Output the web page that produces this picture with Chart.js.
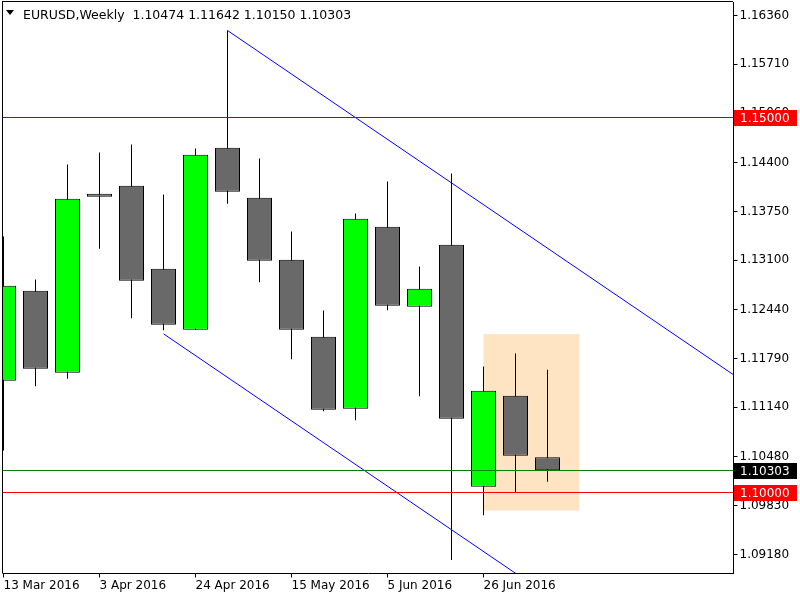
<!DOCTYPE html>
<html>
<head>
<meta charset="utf-8">
<script src="https://cdn.jsdelivr.net/npm/chart.js@4.4.1/dist/chart.umd.min.js"></script>
<style>
  html, body { margin: 0; padding: 0; background: #fff; }
  #wrap { width: 800px; height: 600px; }
</style>
</head>
<body>
<div id="wrap"><canvas id="chart" width="800" height="600"></canvas></div>
<script>
// weekly bars, EURUSD
const weeks = ['13 Mar 2016', '20 Mar 2016', '27 Mar 2016', '3 Apr 2016', '10 Apr 2016', '17 Apr 2016',
               '24 Apr 2016', '1 May 2016', '8 May 2016', '15 May 2016', '22 May 2016', '29 May 2016',
               '5 Jun 2016', '12 Jun 2016', '19 Jun 2016', '26 Jun 2016', '3 Jul 2016', '10 Jul 2016'];
const open  = [1.11494, 1.12693, 1.11600, 1.13985, 1.14091, 1.12986, 1.12173, 1.14598, 1.13932, 1.13106,
               1.12080, 1.11121, 1.13545, 1.12480, 1.13306, 1.10082, 1.11294, 1.10474];
const high  = [1.13416, 1.12843, 1.14375, 1.14535, 1.14642, 1.13976, 1.14588, 1.16160, 1.14455, 1.13483,
               1.12430, 1.13722, 1.14149, 1.13016, 1.14255, 1.11684, 1.11858, 1.11642];
const low   = [1.10565, 1.11422, 1.11520, 1.13252, 1.12328, 1.12168, 1.12170, 1.13852, 1.12807, 1.11782,
               1.11089, 1.10969, 1.12434, 1.11289, 1.09107, 1.09704, 1.10002, 1.10150];
const close = [1.12759, 1.11654, 1.13918, 1.13945, 1.12826, 1.12240, 1.14504, 1.14012, 1.13092, 1.12173,
               1.11108, 1.13652, 1.12493, 1.12719, 1.10988, 1.11360, 1.10495, 1.10303];

const priceTicks = [1.16360, 1.15710, 1.15060, 1.14400, 1.13750, 1.13100, 1.12440, 1.11790, 1.11140,
                    1.10480, 1.09830, 1.09180];

// horizontal levels (line colour, label box colour)
const levelPrices = [1.15000, 1.10303, 1.10000];
const levelColors = ['#c00000', '#008000', '#ff0000'];
const levelBoxColors = ['#ff0000', '#000000', '#ff0000'];

// channel lines (week index, price)
const channelUpper = [{x: 7, y: 1.16160}, {x: 24, y: 1.11230}];
const channelLower = [{x: 5, y: 1.12120}, {x: 17, y: 1.08640}];

// highlighted zone
const zoneWeeks = [15, 18];
const zonePrices = [1.12115, 1.09766];

const upColor = '#00ff00';
const downColor = '#696969';

Chart.defaults.font.family = 'DejaVu Sans';
Chart.defaults.font.size = 12;
Chart.defaults.color = '#000';

const idx = weeks.map((w, i) => i);
const bodyColors = idx.map(i => close[i] >= open[i] ? upColor : downColor);

const overlay = {
    id: 'overlay',
    beforeDatasetsDraw(chart) {
        const {ctx, scales: {x, y}} = chart;
        const x0 = x.getPixelForValue(zoneWeeks[0]);
        const x1 = x.getPixelForValue(zoneWeeks[1]);
        const y0 = y.getPixelForValue(zonePrices[0]);
        const y1 = y.getPixelForValue(zonePrices[1]);
        ctx.save();
        ctx.fillStyle = '#ffe4c4';
        ctx.fillRect(x0, y0, x1 - x0, y1 - y0);
        ctx.restore();
    },
    afterDatasetsDraw(chart) {
        const {ctx, chartArea: a, scales: {y}} = chart;
        ctx.save();
        levelPrices.forEach((p, i) => {
            const py = Math.floor(y.getPixelForValue(p));
            ctx.fillStyle = levelColors[i];
            ctx.fillRect(Math.floor(a.left) - 1, py, Math.floor(a.right) - Math.floor(a.left) + 1, 1);
        });
        ctx.restore();
    },
    afterDraw(chart) {
        const {ctx, chartArea: a, scales: {y}} = chart;
        ctx.save();
        // left and top frame
        ctx.fillStyle = '#000';
        ctx.fillRect(Math.floor(a.left) - 1, Math.floor(a.top) - 1, 1, a.bottom - a.top + 1);
        ctx.fillRect(Math.floor(a.left) - 1, Math.floor(a.top) - 1, a.right - a.left + 1, 1);

        // price labels of the levels
        ctx.font = '12px "DejaVu Sans"';
        ctx.textBaseline = 'middle';
        levelPrices.forEach((p, i) => {
            const py = Math.floor(y.getPixelForValue(p));
            ctx.fillStyle = levelBoxColors[i];
            ctx.fillRect(Math.floor(a.right) + 1, py - 7, 63, 16);
            ctx.fillStyle = '#fff';
            ctx.fillText(p.toFixed(5), 740, py + 1.5);
        });

        // title
        const last = weeks.length - 1;
        ctx.fillStyle = '#000';
        ctx.beginPath();
        ctx.moveTo(6, 10);
        ctx.lineTo(14, 10);
        ctx.lineTo(10, 15);
        ctx.closePath();
        ctx.fill();
        ctx.font = '12.5px "DejaVu Sans"';
        ctx.textBaseline = 'alphabetic';
        const vals = [open[last], high[last], low[last], close[last]].map(v => v.toFixed(5)).join(' ');
        ctx.fillText('EURUSD,Weekly  ' + vals, 23, 18.5);
        ctx.restore();
    }
};

new Chart(document.getElementById('chart'), {
    type: 'bar',
    data: {
        datasets: [
            {
                label: 'wicks',
                data: idx.map(i => ({x: i, y: [low[i], high[i]]})),
                backgroundColor: '#000',
                borderWidth: 0,
                barThickness: 1,
                grouped: false,
                inflateAmount: 0,
                clip: {left: 1, top: 0, right: 0, bottom: 0},
                order: 2
            },
            {
                label: 'bodies',
                data: idx.map(i => ({x: i, y: [open[i], close[i]]})),
                backgroundColor: bodyColors,
                borderColor: '#000',
                borderWidth: 1,
                borderSkipped: false,
                barThickness: 25,
                grouped: false,
                inflateAmount: 0,
                clip: {left: 1, top: 0, right: 0, bottom: 0},
                order: 1
            },
            {
                type: 'line',
                label: 'upper',
                data: channelUpper,
                borderColor: '#0000ff',
                borderWidth: 1,
                pointRadius: 0,
                clip: 0,
                order: 0
            },
            {
                type: 'line',
                label: 'lower',
                data: channelLower,
                borderColor: '#0000ff',
                borderWidth: 1,
                pointRadius: 0,
                clip: 0,
                order: 0
            }
        ]
    },
    options: {
        responsive: false,
        animation: false,
        devicePixelRatio: 1,
        layout: { padding: { left: 3.5, top: 2, right: 0, bottom: 0 } },
        plugins: {
            legend: { display: false },
            tooltip: { enabled: false }
        },
        scales: {
            x: {
                type: 'linear',
                min: 0,
                max: 22.8125,
                offset: false,
                grid: { display: true, offset: false, drawOnChartArea: false, drawTicks: true, tickLength: 4, color: '#000' },
                border: { display: true, color: '#000', width: 1 },
                afterBuildTicks: s => { s.ticks = idx.filter(i => i % 3 === 0).map(i => ({value: i})); },
                afterFit: s => { s.height = 26.5; s.paddingLeft = 0; s.paddingRight = 0; },
                ticks: {
                    autoSkip: false,
                    maxRotation: 0,
                    align: 'start',
                    padding: 1,
                    color: '#000',
                    callback: v => weeks[v]
                }
            },
            y: {
                position: 'right',
                min: 1.08927,
                max: 1.16540,
                grid: { drawOnChartArea: false, drawTicks: true, tickLength: 4, color: '#000' },
                border: { display: true, color: '#000', width: 1 },
                afterBuildTicks: s => { s.ticks = priceTicks.map(v => ({value: v})); },
                afterFit: s => { s.width = 66.5; s.paddingTop = 0; s.paddingBottom = 0; },
                ticks: {
                    autoSkip: false,
                    padding: 2,
                    color: '#000',
                    callback: v => v.toFixed(5)
                }
            }
        }
    },
    plugins: [overlay]
});
</script>
</body>
</html>
